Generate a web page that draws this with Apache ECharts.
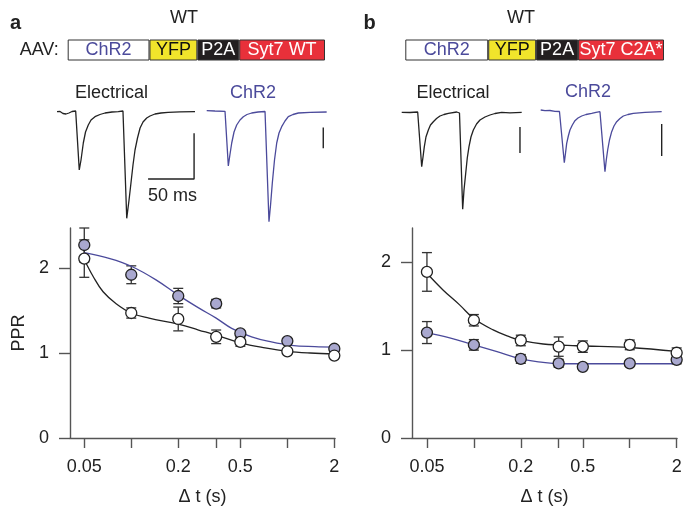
<!DOCTYPE html>
<html>
<head>
<meta charset="utf-8">
<script src="https://cdn.jsdelivr.net/npm/echarts@6/dist/echarts.min.js"></script>
<style>
  html, body { margin: 0; background: #fff; }
  #chart { width: 686px; height: 510px; }
</style>
</head>
<body>
<div id="chart"></div>
<script>
const FONT = '"Liberation Sans", Arial, Helvetica, sans-serif';
const BLUE = '#4b4a9b';
const INK = '#222';
const AXIS = '#555';
const FILL = '#a9a8cf';

// construct diagrams (segment lengths, arbitrary units)
const segNamesA = ['ChR2', 'YFP', 'P2A', 'Syt7 WT'];
const segNamesB = ['ChR2', 'YFP', 'P2A', 'Syt7 C2A*'];
const segLenA = [82, 48, 42, 86];
const segLenB = [83, 48, 42, 86];

// example traces: time (ms) and current (pA)
const elecA_t = [0, 3.3, 6.5, 9.8, 13, 16.3, 20.3, 21.2, 24.2, 26.1, 28.6, 31, 34, 37, 41.3, 46.7, 52.2, 59.8, 66.6, 71.7, 72.3, 75.8, 78.3, 80.4, 82.6, 84.8, 87.5, 90.3, 93.5, 97.5, 101.1, 106.5, 113, 120.7, 133.7, 150];
const elecA_i = [-1, 0, -10, -12.5, -7.5, 0, 2.5, 0, -292.5, -242.5, -157.5, -102.5, -67.5, -42.5, -26, -15, -7.5, -2.5, -1, 2.5, 0, -534, -442.5, -357.5, -267.5, -192.5, -132.5, -82.5, -52.5, -32.5, -22.5, -12.5, -7.5, -4, -1.5, -1];
const chr2A_t = [0, 9, 19.9, 21, 23.5, 25.2, 27.2, 29.7, 32.6, 36.2, 39.8, 43.8, 48.9, 55.8, 63.4, 64.7, 67.7, 69.4, 71.3, 73.7, 76.1, 78.6, 81.5, 85.1, 88.7, 93.8, 99.6, 112.5, 130.4];
const chr2A_i = [4, 2.5, 1, -2.5, -272.5, -217.5, -157.5, -102.5, -67.5, -42.5, -26, -15, -7.5, -2.5, 0, -2.5, -551, -467.5, -359, -242.5, -157.5, -107.5, -76, -47.5, -26, -15, -7.5, -4, -2.5];
const elecB_t = [0, 10.1, 19.5, 20.5, 24.4, 26, 27.6, 29.6, 32.5, 35.1, 38.6, 42.5, 46.7, 51.6, 56.9, 67.1, 69.5, 70.5, 74.4, 76, 78.1, 80, 82.1, 84.5, 87.4, 91.3, 95.5, 101.6, 107.7, 113.8, 122, 132.1, 146.4];
const elecB_i = [0, -1, 1.5, -3.5, -272, -223.5, -172, -123.5, -88.5, -63.5, -47, -31, -18.5, -11, -5, 1.5, 4, -3.5, -485, -388.5, -305, -228.5, -172, -123.5, -88.5, -58.5, -38.5, -23.5, -13.5, -6, 0, -2.5, 0];
const chr2B_t = [0, 5.2, 11.3, 17.4, 22.9, 24.2, 28.8, 30.3, 31.7, 33.7, 35.7, 38.6, 41.8, 45.5, 50, 55.3, 62.2, 67.5, 72.3, 73, 78.4, 80, 81.7, 83.9, 86.6, 89.4, 92.7, 96.7, 100.8, 106.5, 113, 127.2, 147.6];
const chr2B_i = [5, 1.5, 2.5, -1.5, -2.5, -10, -258.5, -210, -161.5, -125, -95, -70, -48.5, -35, -25, -17.5, -11.5, -6.5, -3.5, -7.5, -303.5, -245, -195, -145, -103.5, -75, -53.5, -37.5, -25, -17.5, -11.5, -6.5, -3.5];

// scale bars [t, pA]
const barElecA = [[99, -337.5], [149, -337.5], [149, -109]];
const barChr2A = [[126.7, -80], [126.7, -184]];
const barElecB = [[144.3, -73.5], [144.3, -203.5]];
const barChr2B = [[147.6, -65], [147.6, -225]];

// paired-pulse ratio vs interval
const dt = [0.05, 0.1, 0.2, 0.35, 0.5, 1, 2];
const dtTicks = [0.05, 0.1, 0.2, 0.35, 0.5, 1, 2];
const dtLabels = [0.05, 0.2, 0.5, 2];
const pprTicks = [0, 1, 2];

const elecA = [2.11, 1.47, 1.40, 1.19, 1.13, 1.02, 0.97];
const elecA_err = [0.22, 0.06, 0.14, 0.08, 0.05, 0.02, 0.02];
const chr2A = [2.27, 1.92, 1.67, 1.58, 1.23, 1.14, 1.05];
const chr2A_err = [0.2, 0.105, 0.09, 0.05, 0.03, 0.03, 0.03];
const elecB = [1.89, 1.34, 1.11, 1.04, 1.04, 1.06, 0.97];
const elecB_err = [0.22, 0.065, 0.06, 0.11, 0.065, 0.055, 0.055];
const chr2B = [1.20, 1.06, 0.90, 0.85, 0.81, 0.85, 0.89];
const chr2B_err = [0.125, 0.06, 0.05, 0.045, 0.02, 0.03, 0.045];

// fitted curves
const fitElecA_x = [0.05, 0.057, 0.066, 0.08, 0.1, 0.13, 0.2, 0.27, 0.35, 0.5, 0.72, 1, 1.4, 2];
const fitElecA_y = [2.10, 1.90, 1.72, 1.58, 1.47, 1.41, 1.34, 1.27, 1.21, 1.12, 1.06, 1.02, 1.0, 0.99];
const fitChr2A_x = [0.05, 0.073, 0.1, 0.144, 0.2, 0.27, 0.35, 0.44, 0.59, 0.79, 1.06, 1.5, 2];
const fitChr2A_y = [2.18, 2.11, 2.02, 1.86, 1.68, 1.53, 1.41, 1.29, 1.19, 1.13, 1.09, 1.075, 1.07];
const fitElecB_x = [0.05, 0.0634, 0.081, 0.1, 0.133, 0.17, 0.2, 0.278, 0.455, 1, 2];
const fitElecB_y = [1.875, 1.685, 1.515, 1.36, 1.23, 1.15, 1.11, 1.07, 1.05, 1.03, 0.985];
const fitChr2B_x = [0.05, 0.07, 0.1, 0.139, 0.2, 0.278, 0.35, 0.5, 1, 2];
const fitChr2B_y = [1.20, 1.14, 1.06, 0.985, 0.90, 0.86, 0.845, 0.845, 0.845, 0.845];

// ---- layout ----
const constructBoxes = [
  { left: 67.7, width: 257.3, names: segNamesA, lens: segLenA, showAAV: true },
  { left: 405.3, width: 258.7, names: segNamesB, lens: segLenB, showAAV: false },
];
const TRACE_TOP = 100, TRACE_H = 130, PA_PER_PX = 5;
const traceBoxes = [
  { left: 57, xMax: 150, msPerPx: 50 / 46, basePx: 111.5 },
  { left: 206.7, xMax: 132, msPerPx: 50 / 46, basePx: 111.5 },
  { left: 401.7, xMax: 148, msPerPx: 1.22, basePx: 112.3 },
  { left: 540.7, xMax: 150, msPerPx: 1.22, basePx: 111 },
];
const pprBoxes = [
  { left: 70, width: 265, xMin: 0.0405, xMax: 2.02, yMax: 2.47, name: 'PPR' },
  { left: 412, width: 265, xMin: 0.0401, xMax: 2.01, yMax: 2.39, name: '' },
];

const zip = (a, b) => a.map((v, k) => [v, b[k]]);
const txt = (size, color, weight) => ({ fontSize: size, color: color || INK, fontFamily: FONT, fontWeight: weight || 'normal' });

const grid = [], xAxis = [], yAxis = [], series = [];

// construct grids 0,1
const segFill = ['#ffffff', '#f1e52b', '#231f20', '#e8303a'];
const segText = [BLUE, '#111', '#fff', '#fff'];
constructBoxes.forEach((c, gi) => {
  const total = c.lens.reduce((s, v) => s + v, 0);
  grid.push({ left: c.left, top: 39.3, width: c.width, height: 21.4 });
  xAxis.push({ gridIndex: gi, type: 'value', min: 0, max: total, show: false });
  yAxis.push({
    gridIndex: gi, type: 'category', data: ['AAV:'],
    axisLine: { show: false }, axisTick: { show: false },
    axisLabel: Object.assign({ show: c.showAAV, margin: 9 }, txt(18)),
  });
  c.names.forEach((n, k) => {
    series.push({
      type: 'bar', xAxisIndex: gi, yAxisIndex: gi, stack: 'c' + gi, barWidth: 21,
      data: [c.lens[k]], silent: true,
      itemStyle: { color: segFill[k], borderColor: '#333', borderWidth: 1 },
      label: Object.assign({ show: true, position: 'inside', formatter: n }, txt(18, segText[k])),
    });
  });
});

// trace grids 2..5
const traces = [
  [zip(elecA_t, elecA_i), INK, barElecA],
  [zip(chr2A_t, chr2A_i), BLUE, barChr2A],
  [zip(elecB_t, elecB_i), INK, barElecB],
  [zip(chr2B_t, chr2B_i), BLUE, barChr2B],
];
traceBoxes.forEach((b, k) => {
  const gi = 2 + k;
  const yMax = (b.basePx - TRACE_TOP) * PA_PER_PX;
  grid.push({ left: b.left, top: TRACE_TOP, width: b.xMax / b.msPerPx, height: TRACE_H });
  xAxis.push({ gridIndex: gi, type: 'value', min: 0, max: b.xMax, show: false });
  yAxis.push({ gridIndex: gi, type: 'value', min: yMax - TRACE_H * PA_PER_PX, max: yMax, show: false });
  const [data, color, bar] = traces[k];
  series.push({
    type: 'line', xAxisIndex: gi, yAxisIndex: gi, data, showSymbol: false, clip: false,
    lineStyle: { color, width: 1.3 }, silent: true,
  });
  series.push({
    type: 'line', xAxisIndex: gi, yAxisIndex: gi, data: bar, showSymbol: false, clip: false,
    lineStyle: { color: INK, width: 1.4 }, silent: true,
  });
});

// PPR grids 6,7
function errorBars(gi, ys, errs) {
  return {
    type: 'custom', xAxisIndex: gi, yAxisIndex: gi, z: 2, silent: true,
    data: dt.map((x, k) => [x, ys[k] - errs[k], ys[k] + errs[k]]),
    encode: { x: 0, y: [1, 2] },
    renderItem(params, api) {
      const lo = api.coord([api.value(0), api.value(1)]);
      const hi = api.coord([api.value(0), api.value(2)]);
      const w = 5;
      const st = { stroke: '#333', lineWidth: 1.3 };
      return {
        type: 'group', children: [
          { type: 'line', shape: { x1: lo[0], y1: lo[1], x2: hi[0], y2: hi[1] }, style: st },
          { type: 'line', shape: { x1: lo[0] - w, y1: lo[1], x2: lo[0] + w, y2: lo[1] }, style: st },
          { type: 'line', shape: { x1: hi[0] - w, y1: hi[1], x2: hi[0] + w, y2: hi[1] }, style: st },
        ],
      };
    },
  };
}
const pprSets = [
  { elec: elecA, elecErr: elecA_err, chr2: chr2A, chr2Err: chr2A_err,
    fitE: zip(fitElecA_x, fitElecA_y), fitC: zip(fitChr2A_x, fitChr2A_y) },
  { elec: elecB, elecErr: elecB_err, chr2: chr2B, chr2Err: chr2B_err,
    fitE: zip(fitElecB_x, fitElecB_y), fitC: zip(fitChr2B_x, fitChr2B_y) },
];
pprBoxes.forEach((p, k) => {
  const gi = 6 + k;
  const s = pprSets[k];
  grid.push({ left: p.left, top: 228, width: p.width, height: 210 });
  xAxis.push({
    gridIndex: gi, type: 'log', logBase: 10, min: p.xMin, max: p.xMax,
    name: 'Δ t (s)', nameLocation: 'middle', nameGap: 50, nameTextStyle: txt(18),
    axisLine: { show: true, lineStyle: { color: AXIS, width: 1.4 } },
    axisTick: { show: true, length: 10, customValues: dtTicks, lineStyle: { color: AXIS, width: 1.4 } },
    axisLabel: Object.assign({
      customValues: dtLabels, margin: 20,
      formatter: v => String(Number((+v).toPrecision(3))),
    }, txt(18)),
    minorTick: { show: false }, splitLine: { show: false },
  });
  yAxis.push({
    gridIndex: gi, type: 'value', min: 0, max: p.yMax,
    name: p.name, nameLocation: 'middle', nameGap: 42, nameTextStyle: txt(18),
    axisLine: { show: true, lineStyle: { color: AXIS, width: 1.4 } },
    axisTick: { show: true, length: 11, customValues: pprTicks, lineStyle: { color: AXIS, width: 1.4 } },
    axisLabel: Object.assign({ customValues: pprTicks, margin: 21 }, txt(18)),
    splitLine: { show: false },
  });
  series.push(errorBars(gi, s.chr2, s.chr2Err));
  series.push(errorBars(gi, s.elec, s.elecErr));
  series.push({
    type: 'line', xAxisIndex: gi, yAxisIndex: gi, data: s.fitC, smooth: 0.4, showSymbol: false,
    lineStyle: { color: BLUE, width: 1.3 }, z: 3, silent: true,
  });
  series.push({
    type: 'line', xAxisIndex: gi, yAxisIndex: gi, data: s.fitE, smooth: 0.4, showSymbol: false,
    lineStyle: { color: INK, width: 1.3 }, z: 3, silent: true,
  });
  series.push({
    type: 'scatter', xAxisIndex: gi, yAxisIndex: gi, data: zip(dt, s.chr2), symbolSize: 11, z: 4, silent: true,
    itemStyle: { color: FILL, borderColor: '#222', borderWidth: 1.3, opacity: 1 },
  });
  series.push({
    type: 'scatter', xAxisIndex: gi, yAxisIndex: gi, data: zip(dt, s.elec), symbolSize: 11, z: 5, silent: true,
    itemStyle: { color: '#fff', borderColor: '#222', borderWidth: 1.3, opacity: 1 },
  });
});

const label = (x, y, text, opts) => ({
  type: 'text', x, y, silent: true,
  style: Object.assign({ text, fill: INK, font: '18px ' + FONT, align: 'left', verticalAlign: 'middle' }, opts || {}),
});

const chart = echarts.init(document.getElementById('chart'));
chart.setOption({
  animation: false,
  backgroundColor: '#fff',
  grid, xAxis, yAxis, series,
  graphic: [
    label(10, 23.5, 'a', { font: 'bold 20px ' + FONT }),
    label(363.5, 23.5, 'b', { font: 'bold 20px ' + FONT }),
    label(184, 18.5, 'WT', { align: 'center' }),
    label(521, 18.5, 'WT', { align: 'center' }),
    label(75, 93.5, 'Electrical'),
    label(230, 93, 'ChR2', { fill: BLUE }),
    label(416.5, 93.5, 'Electrical'),
    label(565, 92, 'ChR2', { fill: BLUE }),
    label(148, 196.5, '50 ms'),
  ],
});
</script>
</body>
</html>
